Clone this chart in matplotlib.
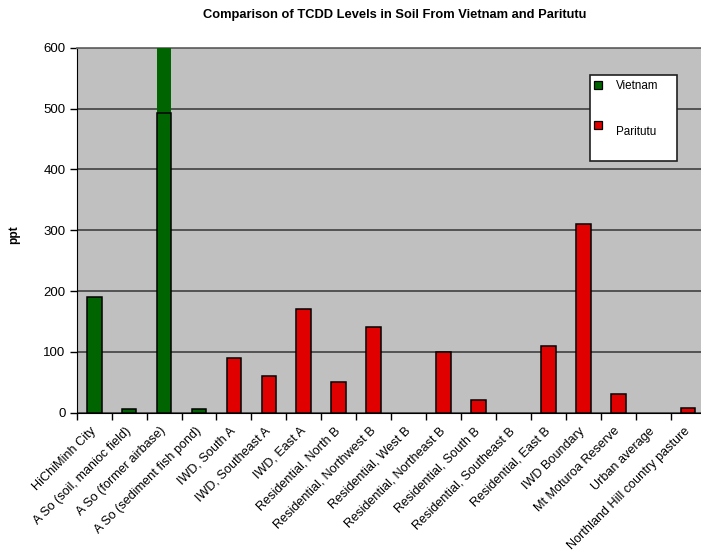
import matplotlib
matplotlib.use("Agg")
import matplotlib.pyplot as plt
from matplotlib.patches import Rectangle
from matplotlib.transforms import ScaledTranslation
import numpy as np

plt.rcParams['font.family'] = ['Liberation Sans', 'DejaVu Sans']

categories = [
    "HiChiMinh City", "A So (soil, manioc field)", "A So (former airbase)",
    "A So (sediment fish pond)", "IWD, South A", "IWD, Southeast A", "IWD, East A",
    "Residential, North B", "Residential, Northwest B", "Residential, West B",
    "Residential, Northeast B", "Residential, South B", "Residential, Southeast B",
    "Residential, East B", "IWD Boundary", "Mt Moturoa Reserve", "Urban average",
    "Northland Hill country pasture",
]
# Vietnam samples (first four categories)
vietnam = [190, 5, 493, 5] + [0] * 14
# Paritutu samples
paritutu = [0, 0, 0, 0, 90, 60, 170, 50, 140, 0, 100, 20, 0, 110, 310, 31, 0, 8]
# The former-airbase reading runs off the top of the scale
airbase_index = 2
y_ticks = [0, 100, 200, 300, 400, 500, 600]
y_max = 600

green = "#006400"
red = "#E00000"
bg = "#C0C0C0"

fig = plt.figure(figsize=(7.01, 5.54), dpi=100)
ax = fig.add_axes([76.7 / 701, (554 - 412.5) / 554, 628.9 / 701, 364.5 / 554])
ax.set_facecolor(bg)

x = np.arange(len(categories))
w = 0.42
v = np.array(vietnam, dtype=float)
p = np.array(paritutu, dtype=float)
vmask = v > 0
pmask = p > 0
ax.bar(x[vmask], v[vmask], width=w, color=green, edgecolor="black", linewidth=1.1, zorder=3)
ax.bar(x[pmask], p[pmask], width=w, color=red, edgecolor="black", linewidth=1.1, zorder=3)
# off-scale continuation of the airbase bar
ax.bar([airbase_index], [y_max * 2 - vietnam[airbase_index]], bottom=vietnam[airbase_index],
       width=w, color=green, edgecolor="none", zorder=2.9)

ax.set_xlim(-0.5, len(categories) - 0.5)
ax.set_ylim(0, y_max)
ax.set_yticks(y_ticks)
ax.yaxis.grid(True, color="#4a4a4a", linewidth=1.3)
ax.set_axisbelow(True)

ax.set_xticks(np.arange(len(categories) + 1) - 0.5)
ax.set_xticklabels([])
ax.set_xticks(x, minor=True)
labels = ax.set_xticklabels(categories, minor=True, rotation=45, ha="right", va="center",
                            rotation_mode="anchor", fontsize=9.1)
shift = ScaledTranslation(-4 / 100, 0, fig.dpi_scale_trans)
for t in labels:
    t.set_transform(t.get_transform() + shift)
ax.tick_params(axis="x", which="minor", length=0, pad=12)
ax.tick_params(axis="x", which="major", length=5, width=1, color="black")
ax.tick_params(axis="y", length=5, width=1, labelsize=9.5, pad=3)

ax.spines["right"].set_visible(False)
ax.spines["top"].set_color("#6a6a6a")
ax.spines["top"].set_linewidth(1.3)
ax.spines["left"].set_color("black")
ax.spines["bottom"].set_color("black")

fig.text(394.8 / 701, 1 - 15 / 554, "Comparison of TCDD Levels in Soil From Vietnam and Paritutu",
         ha="center", va="center", fontsize=9.3, fontweight="bold")
fig.text(14 / 701, 1 - 235 / 554, "ppt", rotation=90, ha="center", va="center",
         fontsize=8.6, fontweight="bold")

# legend box
def px(xp, yp):
    return xp / 701, 1 - yp / 554

lx0, ly0 = px(590, 161)
lx1, ly1 = px(677, 75)
fig.patches.append(Rectangle((lx0, ly0), lx1 - lx0, ly1 - ly0, transform=fig.transFigure,
                             facecolor="white", edgecolor="#202020", linewidth=1.2, zorder=5))
for (my, ty, lab, col) in [(81, 85.7, "Vietnam", green), (121, 132, "Paritutu", red)]:
    mx0, my0 = px(594.3, my + 7.5)
    mw = 7.5 / 701
    mh = 7.5 / 554
    fig.patches.append(Rectangle((mx0, my0), mw, mh, transform=fig.transFigure,
                                 facecolor=col, edgecolor="black", linewidth=0.9, zorder=6))
    tx, tyy = px(616, ty)
    fig.text(tx, tyy, lab, ha="left", va="center", fontsize=8.4, zorder=7)

fig.savefig("out.png", dpi=100, facecolor="white")
